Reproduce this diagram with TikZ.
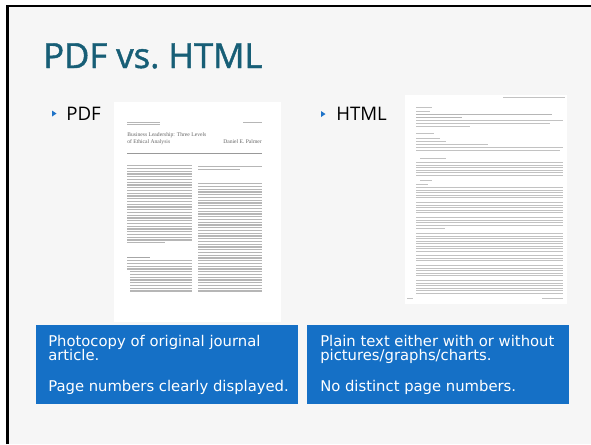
\documentclass[tikz,border=0pt]{standalone}
\usepackage{fontspec}
\setmainfont{Open Sans}
\newfontfamily\titlefont[FakeBold=1.3]{Open Sans}
\newfontfamily\boxfont{DejaVu Sans}
\newfontfamily\docfont{Liberation Serif}
\definecolor{slidebg}{HTML}{F6F6F6}
\definecolor{titleteal}{HTML}{175E76}
\definecolor{bulletblue}{HTML}{1E73C8}
\definecolor{boxblue}{HTML}{1570C6}
\definecolor{doctext}{HTML}{B6B6B6}
\definecolor{htmltext}{HTML}{C2C2C2}
\newcommand\docpara[6][doctext]{%
  \foreach \i in {0,...,#6}{\fill[#1] (#2,{#4+\i*#5}) rectangle (#3,{#4+\i*#5+1.25});}}
\tikzset{
  bluebox/.style={fill=boxblue, draw=none, anchor=north west, minimum width=262*0.75pt, minimum height=79*0.75pt, inner sep=0pt},
  boxtxt/.style={anchor=base west, inner sep=0pt, text=white, font=\boxfont\fontsize{11.1}{13}\selectfont},
  bullettxt/.style={anchor=base west, inner sep=0pt, font=\fontsize{14}{16}\selectfont},
  pagebox/.style={fill=white, draw=none, anchor=north west, inner sep=0pt},
  doctitle/.style={inner sep=0pt, text=black!60, font=\docfont\fontsize{4.2}{5}\selectfont},
}
\begin{document}
\begin{tikzpicture}[x=0.75pt,y=-0.75pt]
\useasboundingbox (0,0) rectangle (591,444);
\fill[white] (0,0) rectangle (591,444);
\fill[slidebg] (7,6) rectangle (591,444);
\draw[black, line width=1.9pt] (7.5,444) -- (7.5,6) -- (591,6);

% title
\node[anchor=base west, inner sep=0pt, text=titleteal, font=\titlefont\fontsize{26}{30}\selectfont] (title) at (43,68) {PDF vs.\ HTML};

% bullets
\fill[bulletblue] (52,110.5) -- (56.5,113.5) -- (52,116.5) -- cycle;
\node[bullettxt] (pdf) at (66,120) {PDF};
\fill[bulletblue] (321,111) -- (325.5,114) -- (321,117) -- cycle;
\node[bullettxt] (html) at (336,120) {HTML};

% PDF page thumbnail
\node[pagebox, minimum width=167*0.75pt, minimum height=220*0.75pt] (pdfpage) at (114,102) {};
\docpara{127}{160}{121.5}{2.6}{1}
\fill[doctext] (243,121.5) rectangle (262,122.6);
\node[doctitle, anchor=base west] (pdft1) at (127,136) {Business Leadership: Three Levels};
\node[doctitle, anchor=base west] (pdft2) at (127,143.5) {of Ethical Analysis};
\node[doctitle, anchor=base east] (pdfau) at (262,143.5) {Daniel E. Palmer};
\draw[black!40, line width=0.45pt] (127,153) -- (262,153);
\docpara{127}{192}{165}{2.75}{27}
\fill[doctext] (127,242) rectangle (165,243.2);
\draw[black!35, line width=0.3pt] (127,257) -- (150,257);
\docpara{127}{192}{260}{2.75}{3}
\docpara{130}{192}{271}{2.75}{7}
\fill[doctext] (198,166) rectangle (262,167.2);
\fill[doctext] (198,168.75) rectangle (240,170);
\docpara{198}{262}{183}{2.75}{39}

% HTML page thumbnail
\node[pagebox, minimum width=162*0.75pt, minimum height=209*0.75pt] (htmlpage) at (405,95) {};
\fill[htmltext] (503,97) rectangle (565,98.2);
\fill[htmltext] (416,106.5) rectangle (432,107.7);
\fill[htmltext] (416,111) rectangle (430,112.2);
\fill[doctext] (416,114) rectangle (552,115.3);
\fill[doctext] (416,117) rectangle (462,118.3);
\fill[htmltext] (416,120) rectangle (563,121.2);
\fill[htmltext] (416,123) rectangle (550,124.2);
\fill[htmltext] (416,126) rectangle (470,127.2);
\fill[htmltext] (416,133) rectangle (434,134.2);
\fill[htmltext] (416,138) rectangle (440,139.2);
\fill[htmltext] (416,141) rectangle (446,142.2);
\fill[htmltext] (416,144) rectangle (488,145.2);
\fill[htmltext] (416,147) rectangle (563,148.2);
\fill[htmltext] (416,150) rectangle (560,151.2);
\fill[htmltext] (420,158) rectangle (446,159.2);
\docpara[htmltext]{416}{563}{162}{2.5}{5}
\fill[htmltext] (420,180) rectangle (432,181.2);
\fill[htmltext] (416,183.5) rectangle (428,184.7);
\docpara[htmltext]{416}{563}{187}{2.5}{4}
\docpara[htmltext]{416}{563}{202}{2.5}{4}
\docpara[htmltext]{416}{563}{217}{2.5}{3}
\fill[htmltext] (416,228) rectangle (445,229.2);
\docpara[htmltext]{416}{563}{233}{2.5}{7}
\docpara[htmltext]{416}{563}{255}{2.5}{2}
\docpara[htmltext]{416}{563}{265}{2.5}{4}
\docpara[htmltext]{416}{563}{280}{2.5}{5}
\fill[htmltext] (407,298) rectangle (413,299.2);
\fill[htmltext] (542,298) rectangle (563,299.2);

% blue caption boxes
\node[bluebox] (lbox) at (36,325) {};
\node[boxtxt] (lt1) at (48,346) {Photocopy of original journal};
\node[boxtxt] (lt2) at (48,360.5) {article.};
\node[boxtxt] (lt3) at (48,391) {Page numbers clearly displayed.};
\node[bluebox] (rbox) at (307,325) {};
\node[boxtxt] (rt1) at (320,346) {Plain text either with or without};
\node[boxtxt] (rt2) at (320,360.5) {pictures/graphs/charts.};
\node[boxtxt] (rt3) at (320,391) {No distinct page numbers.};
\end{tikzpicture}
\end{document}
